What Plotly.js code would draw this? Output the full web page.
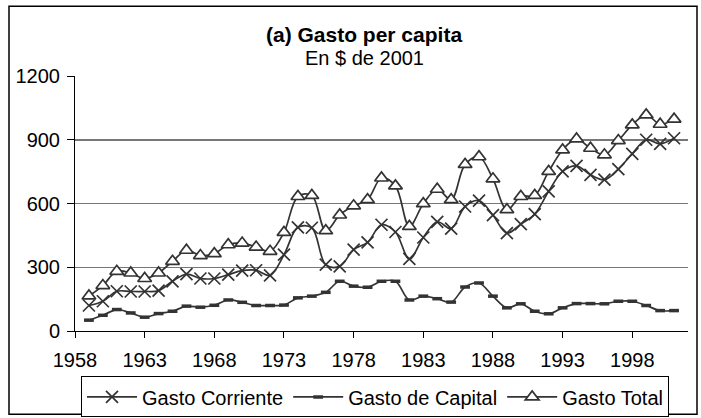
<!DOCTYPE html>
<html><head><meta charset="utf-8">
<script src="https://cdn.plot.ly/plotly-3.0.1.min.js"></script>
<style>html,body{margin:0;padding:0;background:#fff}#chart{width:701px;height:418px}</style>
</head><body><div id="chart"></div>
<script>
const years = [1959,1960,1961,1962,1963,1964,1965,1966,1967,1968,1969,1970,1971,1972,1973,1974,1975,1976,1977,1978,1979,1980,1981,1982,1983,1984,1985,1986,1987,1988,1989,1990,1991,1992,1993,1994,1995,1996,1997,1998,1999,2000,2001];
const gastoCorriente = [120,140,187,186,186,190,234,268,247,247,265,284,286,262,359,488,486,312,304,383,417,500,466,339,440,514,482,586,614,545,461,503,550,657,751,777,735,712,762,834,900,881,907];
const gastoCapital = [51,74,101,85,65,82,93,117,112,121,146,135,120,120,122,156,164,182,234,211,206,234,234,146,164,152,136,207,226,164,109,128,93,81,109,129,129,128,140,140,120,96,96];
const gastoTotal = [165,214,281,273,247,273,328,380,355,364,406,414,395,375,464,633,638,472,546,589,618,720,683,492,599,667,618,784,820,716,571,633,638,751,852,904,860,829,896,970,1017,973,997];
const xTickVals = [1958,1963,1968,1973,1978,1983,1988,1993,1998];
const yTickVals = [0,300,600,900,1200];
const seriesNames = ['Gasto Corriente','Gasto de Capital','Gasto Total'];
const titleText = '(a) Gasto per capita';
const subtitleText = 'En $ de 2001';

const W = 701, H = 418, L = 75, R = 13, T = 76, B = 86.5;
const px2x = px => (px - L) / (W - L - R);
const py2y = py => (H - B - py) / (H - T - B);
const ink = '#333333';
const FONT = 'Liberation Sans, Arial, sans-serif';

const lineStyle = {color: ink, width: 1.7, shape: 'spline', smoothing: 1};
const traces = [
  {x: years, y: gastoCorriente, name: seriesNames[0], type: 'scatter', mode: 'lines+markers',
   line: lineStyle, marker: {symbol: 'x-thin-open', size: 12, color: ink, line: {color: ink, width: 1.7}}},
  {x: years, y: gastoCapital, name: seriesNames[1], type: 'scatter', mode: 'lines+markers',
   line: lineStyle, marker: {symbol: 'line-ew-open', size: 7, color: ink, line: {color: ink, width: 3.5}}},
  {x: years, y: gastoTotal, name: seriesNames[2], type: 'scatter', mode: 'lines+markers',
   line: lineStyle, marker: {symbol: 'triangle-up', size: 12, color: '#ffffff', line: {color: ink, width: 1.7}}}
];

const layout = {
  width: W, height: H,
  margin: {l: L, r: R, t: T, b: B, pad: 0, autoexpand: false},
  paper_bgcolor: '#ffffff', plot_bgcolor: '#ffffff',
  font: {family: FONT, size: 20, color: '#000000'},
  showlegend: true,
  legend: {orientation: 'h', x: px2x(81), y: py2y(377), xanchor: 'left', yanchor: 'top',
    bordercolor: '#000000', borderwidth: 1, bgcolor: '#ffffff',
    font: {family: FONT, size: 20, color: '#000000'}, itemwidth: 50, tracegroupgap: 0},
  xaxis: {range: [1958, 2002], tickvals: xTickVals, ticktext: xTickVals.map(String),
    showgrid: false, zeroline: false, showline: true, linecolor: '#000000', linewidth: 1,
    ticks: 'outside', ticklen: 6, tickcolor: '#000000', tickwidth: 1, ticklabelstandoff: 5,
    tickfont: {family: FONT, size: 20, color: '#000000'}, fixedrange: true},
  yaxis: {range: [0, 1200], tickvals: yTickVals, showgrid: true, gridcolor: '#777777', gridwidth: 1.5,
    zeroline: false, showline: true, linecolor: '#000000', linewidth: 1,
    ticks: 'outside', ticklen: 7, tickcolor: '#000000', tickwidth: 1, ticklabelstandoff: 3,
    tickfont: {family: FONT, size: 20, color: '#000000'}, fixedrange: true},
  annotations: [
    {text: '<b>' + titleText + '</b>', xref: 'paper', yref: 'paper', x: px2x(364), y: py2y(34),
     xanchor: 'center', yanchor: 'middle', showarrow: false, font: {family: FONT, size: 21, color: '#000000'}},
    {text: subtitleText, xref: 'paper', yref: 'paper', x: px2x(364), y: py2y(58),
     xanchor: 'center', yanchor: 'middle', showarrow: false, font: {family: FONT, size: 20, color: '#000000'}}
  ],
  shapes: [
    {type: 'rect', xref: 'paper', yref: 'paper', x0: px2x(9), x1: px2x(697), y0: py2y(415), y1: py2y(6),
     line: {color: '#000000', width: 1.5}, fillcolor: 'rgba(0,0,0,0)', layer: 'above'}
  ]
};

Plotly.newPlot('chart', traces, layout, {displayModeBar: false, staticPlot: true});
</script>
</body></html>
